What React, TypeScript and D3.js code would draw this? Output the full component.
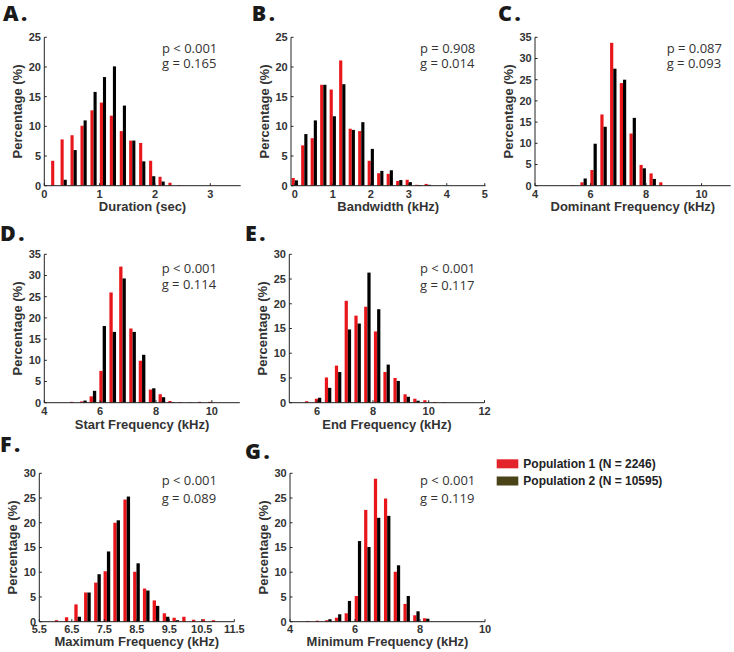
import React from 'react';
import * as d3 from 'd3';

// ---------- Data ----------
const aCenters = [0.18, 0.35, 0.53, 0.71, 0.89, 1.06, 1.24, 1.42, 1.59, 1.77, 1.95, 2.12, 2.3, 2.47];
const aPop1 = [4.2, 7.8, 8.5, 10.1, 12.7, 14.0, 11.8, 9.2, 7.6, 7.2, 4.2, 1.5, 0.5, 0.1];
const aPop2 = [0, 1.0, 6.0, 11.0, 15.8, 18.3, 20.1, 13.5, 7.6, 4.1, 1.6, 0.7, 0, 0];

const bCenters = [0, 0.25, 0.5, 0.75, 1.0, 1.25, 1.5, 1.75, 2.0, 2.25, 2.5, 2.75, 3.0, 3.25, 3.5];
const bPop1 = [1.3, 6.8, 8.0, 17.0, 16.2, 21.1, 9.6, 9.2, 4.2, 2.1, 2.0, 0.8, 1.0, 0.15, 0.3];
const bPop2 = [0.9, 8.7, 11.0, 17.0, 11.7, 17.1, 9.4, 10.7, 6.2, 2.5, 2.6, 0.95, 0.6, 0.1, 0.15];

const cCenters = [5.4, 5.75, 6.11, 6.47, 6.82, 7.17, 7.52, 7.88, 8.24, 8.59];
const cPop1 = [0.15, 0.8, 3.7, 16.8, 33.7, 24.2, 12.3, 4.9, 2.9, 0.8];
const cPop2 = [0.05, 1.7, 9.9, 13.9, 27.6, 25.0, 16.0, 4.1, 1.6, 0];

const dCenters = [5.04, 5.4, 5.74, 6.09, 6.45, 6.8, 7.16, 7.5, 7.86, 8.21, 8.56, 8.92, 9.27, 9.62, 9.98];
const dPop1 = [0.2, 0.3, 1.5, 7.5, 26.0, 32.1, 17.5, 9.9, 3.1, 2.0, 0.4, 0.15, 0.1, 0.2, 0.2];
const dPop2 = [0, 0.5, 2.8, 18.1, 16.7, 29.3, 16.7, 11.3, 3.4, 1.3, 0.1, 0, 0, 0, 0];

const eCenters = [5.68, 6.03, 6.39, 6.75, 7.1, 7.45, 7.8, 8.15, 8.49, 8.85, 9.21, 9.56, 9.92, 10.27, 10.62];
const ePop1 = [0.3, 0.8, 5.1, 7.5, 20.6, 17.6, 19.4, 14.4, 6.2, 5.0, 1.7, 0.8, 0.5, 0.15, 0.1];
const ePop2 = [0, 1.0, 3.0, 6.2, 14.8, 16.0, 26.3, 18.9, 7.7, 4.4, 1.2, 0.4, 0.1, 0, 0];

const fCenters = [6.08, 6.39, 6.68, 6.98, 7.29, 7.58, 7.88, 8.19, 8.49, 8.79, 9.09, 9.4, 9.7, 10.0, 10.3, 10.6, 10.91];
const fPop1 = [0.3, 0.9, 3.5, 5.9, 7.9, 10.2, 20.0, 24.7, 10.1, 6.7, 4.3, 1.7, 0.8, 1.0, 0.4, 0.5, 0.3];
const fPop2 = [0, 0, 1.0, 5.9, 9.6, 14.2, 20.5, 25.3, 11.8, 6.3, 3.2, 1.0, 0.3, 0, 0, 0, 0];

const gCenters = [4.59, 4.89, 5.18, 5.48, 5.78, 6.09, 6.38, 6.68, 6.99, 7.29, 7.59, 7.89, 8.19];
const gPop1 = [0.15, 0.2, 0.3, 0.8, 1.7, 5.2, 22.6, 28.9, 24.9, 10.1, 3.6, 1.3, 0.7];
const gPop2 = [0, 0, 0.5, 1.5, 4.2, 16.3, 15.1, 21.0, 21.4, 11.4, 5.2, 2.1, 0.6];

const aXTicks = [0, 1, 2, 3];
const bXTicks = [0, 1, 2, 3, 4, 5];
const cXTicks = [4, 6, 8, 10];
const dXTicks = [4, 6, 8, 10];
const eXTicks = [6, 8, 10, 12];
const fXTicks = [5.5, 6.5, 7.5, 8.5, 9.5, 10.5, 11.5];
const gXTicks = [4, 6, 8, 10];

const yTicks25 = [0, 5, 10, 15, 20, 25];
const yTicks30 = [0, 5, 10, 15, 20, 25, 30];
const yTicks35 = [0, 5, 10, 15, 20, 25, 30, 35];

const xLabels = [
  'Duration (sec)',
  'Bandwidth (kHz)',
  'Dominant Frequency (kHz)',
  'Start Frequency (kHz)',
  'End Frequency (kHz)',
  'Maximum Frequency (kHz)',
  'Minimum Frequency (kHz)',
];
const panelTitles = ['A.', 'B.', 'C.', 'D.', 'E.', 'F.', 'G.'];
const pValues = ['p < 0.001', 'p = 0.908', 'p = 0.087', 'p < 0.001', 'p < 0.001', 'p < 0.001', 'p < 0.001'];
const gValues = ['g = 0.165', 'g = 0.014', 'g = 0.093', 'g = 0.114', 'g = 0.117', 'g = 0.089', 'g = 0.119'];
const legendLabels = ['Population 1 (N = 2246)', 'Population 2 (N = 10595)'];

// ---------- Styles ----------
const RED = '#e8161b';
const BLACK = '#000000';
const LEGEND_RED = '#e3242b';
const LEGEND_DARK = '#4b4318';
const TEXT = '#333333';
const AXIS = '#222222';
const SANS = '"Liberation Sans", Arial, Helvetica, sans-serif';
const STAT_FONT = '"Open Sans", "Noto Sans", sans-serif';

type Spec = {
  title: string;
  centers: number[];
  pop1: number[];
  pop2: number[];
  xDomain: [number, number];
  xRange: [number, number];
  yMax: number;
  yRange: [number, number];
  xTicks: number[];
  yTicks: number[];
  xLabel: string;
  xLabelY: number;
  tickLabelDy: number;
  titleX: number;
  titleY: number;
  statX: number;
  statY1: number;
  statY2: number;
  pText: string;
  gText: string;
};

const panels: Spec[] = [
  { title: panelTitles[0], centers: aCenters, pop1: aPop1, pop2: aPop2, xDomain: [0, 3.55], xRange: [44.3, 240.7], yMax: 25, yRange: [185.7, 37.3], xTicks: aXTicks, yTicks: yTicks25, xLabel: xLabels[0], xLabelY: 210.7, tickLabelDy: 12.5, titleX: 3, titleY: 21, statX: 162, statY1: 52.7, statY2: 67.7, pText: pValues[0], gText: gValues[0] },
  { title: panelTitles[1], centers: bCenters, pop1: bPop1, pop2: bPop2, xDomain: [-0.1, 5.02], xRange: [291, 485.5], yMax: 25, yRange: [185.7, 37.3], xTicks: bXTicks, yTicks: yTicks25, xLabel: xLabels[1], xLabelY: 210.7, tickLabelDy: 12.5, titleX: 251.7, titleY: 21, statX: 420, statY1: 52.7, statY2: 67.7, pText: pValues[1], gText: gValues[1] },
  { title: panelTitles[2], centers: cCenters, pop1: cPop1, pop2: cPop2, xDomain: [4, 11.05], xRange: [535, 730.7], yMax: 35, yRange: [185.7, 37.3], xTicks: cXTicks, yTicks: yTicks35, xLabel: xLabels[2], xLabelY: 210.7, tickLabelDy: 12.5, titleX: 498, titleY: 21, statX: 666.7, statY1: 52.7, statY2: 67.7, pText: pValues[2], gText: gValues[2] },
  { title: panelTitles[3], centers: dCenters, pop1: dPop1, pop2: dPop2, xDomain: [4, 11], xRange: [44.3, 239.8], yMax: 35, yRange: [402.7, 254.3], xTicks: dXTicks, yTicks: yTicks35, xLabel: xLabels[3], xLabelY: 428.5, tickLabelDy: 12.5, titleX: 0, titleY: 241, statX: 161.7, statY1: 272.7, statY2: 289.3, pText: pValues[3], gText: gValues[3] },
  { title: panelTitles[4], centers: eCenters, pop1: ePop1, pop2: ePop2, xDomain: [5, 12], xRange: [289.3, 484.5], yMax: 30, yRange: [402.7, 254.3], xTicks: eXTicks, yTicks: yTicks30, xLabel: xLabels[4], xLabelY: 428.5, tickLabelDy: 12.5, titleX: 245, titleY: 241, statX: 420, statY1: 273.3, statY2: 290, pText: pValues[4], gText: gValues[4] },
  { title: panelTitles[5], centers: fCenters, pop1: fPop1, pop2: fPop2, xDomain: [5.5, 11.5], xRange: [39.3, 234.3], yMax: 30, yRange: [621.7, 473.3], xTicks: fXTicks, yTicks: yTicks30, xLabel: xLabels[5], xLabelY: 646, tickLabelDy: 11.3, titleX: 0, titleY: 452, statX: 161.7, statY1: 485, statY2: 502.7, pText: pValues[5], gText: gValues[5] },
  { title: panelTitles[6], centers: gCenters, pop1: gPop1, pop2: gPop2, xDomain: [4, 10], xRange: [290, 485], yMax: 30, yRange: [621.7, 473.3], xTicks: gXTicks, yTicks: yTicks30, xLabel: xLabels[6], xLabelY: 646, tickLabelDy: 11.3, titleX: 245, titleY: 459, statX: 420, statY1: 485, statY2: 502.7, pText: pValues[6], gText: gValues[6] },
];

function Panel({ s }: { s: Spec }) {
  const x = d3.scaleLinear().domain(s.xDomain).range(s.xRange);
  const y = d3.scaleLinear().domain([0, s.yMax]).range(s.yRange);
  const bin = s.centers[1] - s.centers[0];
  const w = Math.abs(x(s.centers[0] + bin) - x(s.centers[0])) * 0.33;
  const x0 = s.xRange[0];
  const y0 = s.yRange[0];
  const plotMidY = (s.yRange[0] + s.yRange[1]) / 2;
  const plotMidX = (s.xRange[0] + s.xRange[1]) / 2;
  return (
    <g>
      <text x={s.titleX} y={s.titleY} fontFamily={STAT_FONT} fontWeight={800} fontSize={21.5} letterSpacing={2.5} fill="#1a1a1a">
        {s.title}
      </text>
      {s.centers.map((c, i) =>
        s.pop1[i] > 0 ? (
          <rect key={'r' + i} x={x(c) - w} y={y(s.pop1[i])} width={w} height={y0 - y(s.pop1[i])} fill={RED} />
        ) : null
      )}
      {s.centers.map((c, i) =>
        s.pop2[i] > 0 ? (
          <rect key={'k' + i} x={x(c)} y={y(s.pop2[i])} width={w} height={y0 - y(s.pop2[i])} fill={BLACK} />
        ) : null
      )}
      <line x1={x0} x2={x0} y1={y0} y2={s.yRange[1]} stroke={AXIS} strokeWidth={1} />
      <line x1={x0} x2={s.xRange[1]} y1={y0} y2={y0} stroke={AXIS} strokeWidth={1} />
      {s.yTicks.map((t) => (
        <g key={'yt' + t}>
          <line x1={x0} x2={x0 + 2.5} y1={y(t)} y2={y(t)} stroke={AXIS} />
          <text x={x0 - 3.3} y={y(t)} dy="0.35em" textAnchor="end" fontFamily={SANS} fontWeight="bold" fontSize={11} fill={TEXT}>
            {t}
          </text>
        </g>
      ))}
      {s.xTicks.map((t) => (
        <g key={'xt' + t}>
          <line x1={x(t)} x2={x(t)} y1={y0} y2={y0 - 2.5} stroke={AXIS} />
          <text x={x(t)} y={y0 + s.tickLabelDy} textAnchor="middle" fontFamily={SANS} fontWeight="bold" fontSize={11} fill={TEXT}>
            {String(t)}
          </text>
        </g>
      ))}
      <text x={plotMidX} y={s.xLabelY} textAnchor="middle" fontFamily={SANS} fontWeight="bold" fontSize={13} fill={TEXT}>
        {s.xLabel}
      </text>
      <text
        transform={`translate(${x0 - 22.5},${plotMidY}) rotate(-90)`}
        textAnchor="middle"
        fontFamily={SANS}
        fontWeight="bold"
        fontSize={13}
        fill={TEXT}
      >
        Percentage (%)
      </text>
      <text x={s.statX} y={s.statY1} fontFamily={STAT_FONT} fontSize={13} fill={TEXT}>
        {s.pText}
      </text>
      <text x={s.statX} y={s.statY2} fontFamily={STAT_FONT} fontSize={13} fill={TEXT}>
        {s.gText}
      </text>
    </g>
  );
}

export default function App() {
  return (
    <svg width={734} height={652} style={{ position: 'absolute', left: 0, top: 0, background: '#fff' }}>
      <rect x={0} y={0} width={734} height={652} fill="#fff" />
      {panels.map((s, i) => (
        <Panel key={i} s={s} />
      ))}
      <rect x={496.7} y={459.3} width={21.6} height={9} fill={LEGEND_RED} />
      <rect x={496.7} y={476.5} width={21.6} height={9} fill={LEGEND_DARK} />
      <text x={523.3} y={467.5} fontFamily={SANS} fontWeight="bold" fontSize={12} fill="#222">
        {legendLabels[0]}
      </text>
      <text x={523.3} y={484.5} fontFamily={SANS} fontWeight="bold" fontSize={12} fill="#222">
        {legendLabels[1]}
      </text>
    </svg>
  );
}
